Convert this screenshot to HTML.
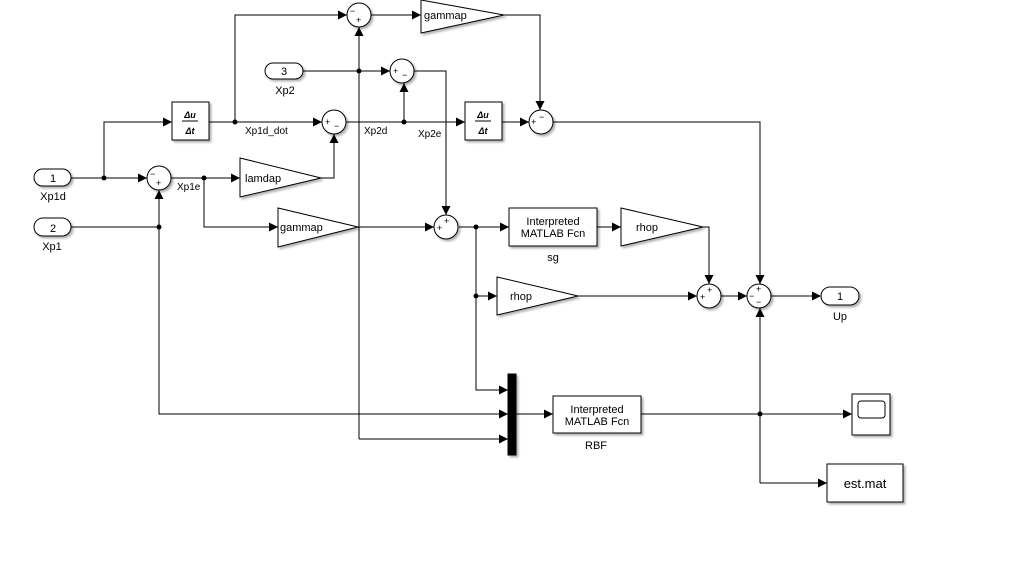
<!DOCTYPE html>
<html><head><meta charset="utf-8"><style>
html,body{margin:0;padding:0;background:#fff;}
svg{display:block;font-family:"Liberation Sans",sans-serif;}
</style></head><body>
<svg width="1012" height="564" viewBox="0 0 1012 564" xmlns="http://www.w3.org/2000/svg">
<defs>
<marker id="a" viewBox="0 0 10 10" refX="10" refY="5" markerWidth="9" markerHeight="9" markerUnits="userSpaceOnUse" orient="auto">
<path d="M0,0 L10,5 L0,10 z" fill="#000"/></marker>
<filter id="sh" x="-10%" y="-10%" width="130%" height="140%"><feDropShadow dx="2" dy="2" stdDeviation="1" flood-color="#000" flood-opacity="0.3"/></filter>
</defs>
<g fill="none" stroke="#000" stroke-width="1">
<!-- lines -->
<path d="M71,178 H147" marker-end="url(#a)"/>
<path d="M104,178 V122 H172" marker-end="url(#a)"/>
<path d="M209,122 H322" marker-end="url(#a)"/>
<path d="M235,122 V15 H347" marker-end="url(#a)"/>
<path d="M371,15 H421" marker-end="url(#a)"/>
<path d="M504,15 H540 V110" marker-end="url(#a)"/>
<path d="M171,178 H240" marker-end="url(#a)"/>
<path d="M321,178 H334 V134" marker-end="url(#a)"/>
<path d="M204,178 V227 H278" marker-end="url(#a)"/>
<path d="M358,227 H434" marker-end="url(#a)"/>
<path d="M71,227 H159 V190" marker-end="url(#a)"/>
<path d="M159,227 V414 H508" marker-end="url(#a)"/>
<path d="M303,71 H390" marker-end="url(#a)"/>
<path d="M359,439 V27" marker-end="url(#a)"/>
<path d="M359,439 H508" marker-end="url(#a)"/>
<path d="M346,122 H465" marker-end="url(#a)"/>
<path d="M404,122 V83" marker-end="url(#a)"/>
<path d="M414,71 H446 V215" marker-end="url(#a)"/>
<path d="M502,122 H529" marker-end="url(#a)"/>
<path d="M553,122 H760 V284" marker-end="url(#a)"/>
<path d="M459,227 H509" marker-end="url(#a)"/>
<path d="M597,227 H621" marker-end="url(#a)"/>
<path d="M703,227 H709 V284" marker-end="url(#a)"/>
<path d="M476,227 V390 H508" marker-end="url(#a)"/>
<path d="M476,296 H497" marker-end="url(#a)"/>
<path d="M578,296 H697" marker-end="url(#a)"/>
<path d="M721,296 H747" marker-end="url(#a)"/>
<path d="M771,296 H821" marker-end="url(#a)"/>
<path d="M516,414 H553" marker-end="url(#a)"/>
<path d="M641,414 H852" marker-end="url(#a)"/>
<path d="M760,483 V308" marker-end="url(#a)"/>
<path d="M760,483 H827" marker-end="url(#a)"/>
</g>
<g fill="#000">
<circle cx="104" cy="178" r="2.5"/><circle cx="235" cy="122" r="2.5"/><circle cx="204" cy="178" r="2.5"/>
<circle cx="159" cy="227" r="2.5"/><circle cx="359" cy="71" r="2.5"/><circle cx="404" cy="122" r="2.5"/>
<circle cx="476" cy="227" r="2.5"/><circle cx="476" cy="296" r="2.5"/><circle cx="760" cy="414" r="2.5"/>
</g>
<!-- blocks -->
<g fill="#fff" stroke="#000" stroke-width="1" filter="url(#sh)">
<rect x="34" y="169" width="37" height="17" rx="8.5"/>
<rect x="34" y="218" width="37" height="18" rx="9"/>
<rect x="265" y="63" width="38" height="16" rx="8"/>
<rect x="821" y="287" width="38" height="18" rx="9"/>
<rect x="172" y="102" width="37" height="38"/>
<rect x="465" y="102" width="37" height="38"/>
<polygon points="421,0 504,15 421,33"/>
<polygon points="240,158 321,178 240,197"/>
<polygon points="278,208 358,227 278,247"/>
<polygon points="621,208 703,227 621,246"/>
<polygon points="497,277 578,296 497,315"/>
<rect x="509" y="208" width="88" height="38"/>
<rect x="553" y="396" width="88" height="37"/>
<rect x="852" y="394" width="38" height="41"/>
<rect x="827" y="464" width="76" height="38"/>
<rect x="508" y="374" width="8" height="81" fill="#000"/>
<circle cx="359" cy="15" r="12"/><circle cx="159" cy="178" r="12"/><circle cx="334" cy="122" r="12"/>
<circle cx="402" cy="71" r="12"/><circle cx="541" cy="122" r="12"/><circle cx="446" cy="227" r="12"/>
<circle cx="709" cy="296" r="12"/><circle cx="759" cy="296" r="12"/>
</g>
<rect x="858" y="401" width="27" height="17" rx="3" fill="none" stroke="#000"/>
<g font-size="9" fill="#000">
<text x="350" y="14">−</text><text x="356" y="23">+</text>
<text x="150" y="177">−</text><text x="156" y="186">+</text>
<text x="325" y="125">+</text><text x="334" y="129">−</text>
<text x="393" y="74">+</text><text x="402" y="78">−</text>
<text x="531" y="125">+</text><text x="539" y="120">−</text>
<text x="437" y="231">+</text><text x="444" y="224">+</text>
<text x="700" y="300">+</text><text x="707" y="293">+</text>
<text x="749" y="299">−</text><text x="756" y="292">+</text><text x="756" y="305">−</text>
</g>
<g font-size="11" fill="#000" text-anchor="middle">
<text x="53" y="182">1</text><text x="53" y="232">2</text><text x="284" y="75">3</text><text x="840" y="300">1</text>
<text x="53" y="200">Xp1d</text><text x="52" y="250">Xp1</text><text x="285" y="94">Xp2</text><text x="840" y="320">Up</text>
<text x="553" y="261">sg</text><text x="596" y="449">RBF</text>
<text x="553" y="225">Interpreted</text><text x="553" y="237">MATLAB Fcn</text>
<text x="597" y="413">Interpreted</text><text x="597" y="425">MATLAB Fcn</text>
<text x="865" y="488" font-size="13">est.mat</text>
</g>
<g font-size="11" fill="#000">
<text x="424" y="19">gammap</text><text x="280" y="231">gammap</text><text x="245" y="182">lamdap</text>
<text x="636" y="231">rhop</text><text x="510" y="300">rhop</text>
</g>
<g font-size="10" fill="#000">
<text x="245" y="134">Xp1d_dot</text><text x="364" y="134">Xp2d</text><text x="418" y="137">Xp2e</text><text x="177" y="190">Xp1e</text>
</g>
<g font-size="9" font-weight="bold" font-style="italic" text-anchor="middle" fill="#000">
<text x="190" y="118">Δu</text><text x="190" y="134">Δt</text>
<text x="483" y="118">Δu</text><text x="483" y="134">Δt</text>
</g>
<path d="M182,121 H198 M475,121 H491" stroke="#000"/>
</svg>
</body></html>
